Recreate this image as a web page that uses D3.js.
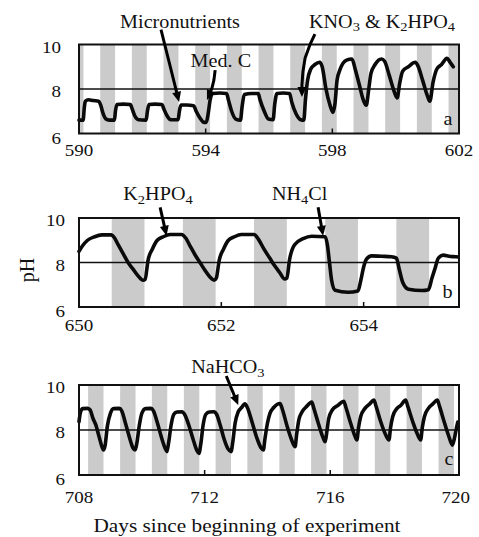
<!DOCTYPE html>
<html>
<head>
<meta charset="utf-8">
<script src="https://cdn.jsdelivr.net/npm/d3@7"></script>
<style>
  body { margin: 0; background: #fff; }
  text { font-family: "Liberation Serif", "Times New Roman", serif; fill: #111; }
</style>
</head>
<body>
<svg id="chart" width="479" height="537"></svg>
<script>
// ---- data: pH traces, [day, pH] ----
const traceA = [
  [590.00,6.60],[590.13,6.60],[590.17,7.20],[590.20,7.45],[590.30,7.52],[590.45,7.48],[590.62,7.45],
  [590.68,7.30],[590.76,6.90],[590.85,6.65],[590.95,6.60],[591.12,6.60],[591.15,7.00],[591.20,7.30],
  [591.40,7.32],[591.62,7.30],[591.68,7.10],[591.76,6.80],[591.88,6.62],[592.12,6.60],[592.16,7.00],
  [592.21,7.30],[592.40,7.32],[592.62,7.30],[592.68,7.10],[592.78,6.80],[592.90,6.62],[593.13,6.62],
  [593.17,7.00],[593.22,7.28],[593.40,7.28],[593.62,7.25],[593.70,7.00],[593.82,6.70],[593.95,6.50],
  [594.02,6.50],[594.08,6.90],[594.14,7.50],[594.22,7.80],[594.45,7.82],[594.66,7.80],[594.72,7.50],
  [594.82,7.00],[594.95,6.65],[595.10,6.60],[595.15,7.20],[595.22,7.75],[595.45,7.80],[595.66,7.80],
  [595.72,7.50],[595.85,7.00],[595.98,6.65],[596.13,6.62],[596.18,7.30],[596.25,7.80],[596.45,7.82],
  [596.65,7.80],[596.72,7.40],[596.85,6.90],[597.00,6.62],[597.10,6.60],[597.15,7.50],[597.22,8.40],
  [597.32,8.90],[597.45,9.10],[597.60,9.20],[597.68,9.00],[597.80,8.00],[597.92,7.30],[598.02,6.95],
  [598.08,7.30],[598.15,8.40],[598.25,8.90],[598.45,9.30],[598.62,9.35],[598.72,8.90],[598.85,8.20],
  [598.98,7.50],[599.07,7.27],[599.15,8.00],[599.22,8.70],[599.35,9.10],[599.55,9.35],[599.65,9.25],
  [599.80,8.60],[599.95,7.90],[600.05,7.60],[600.12,8.20],[600.22,8.80],[600.40,9.00],[600.62,9.20],
  [600.70,9.05],[600.85,8.40],[601.00,7.70],[601.08,7.45],[601.18,8.30],[601.30,8.90],[601.45,9.10],
  [601.62,9.38],[601.72,9.20],[601.82,9.00]
];
const traceB = [
  [650.00,8.50],[650.05,8.75],[650.12,9.00],[650.22,9.16],[650.32,9.24],[650.45,9.24],[650.50,9.10],
  [650.55,8.80],[650.62,8.40],[650.69,8.00],[650.76,7.70],[650.83,7.40],[650.90,7.20],[650.93,7.25],
  [650.97,8.10],[651.03,8.60],[651.10,9.00],[651.18,9.15],[651.28,9.26],[651.44,9.26],[651.50,9.10],
  [651.56,8.75],[651.63,8.35],[651.70,8.00],[651.77,7.65],[651.84,7.35],[651.90,7.20],[651.93,7.30],
  [651.97,8.10],[652.03,8.60],[652.10,9.00],[652.18,9.15],[652.28,9.26],[652.46,9.26],[652.52,9.05],
  [652.60,8.60],[652.68,8.20],[652.75,7.85],[652.82,7.55],[652.89,7.26],[652.92,7.30],[652.96,8.15],
  [653.03,8.80],[653.15,9.07],[653.27,9.18],[653.46,9.16],[653.49,8.80],[653.52,8.00],[653.55,7.20],
  [653.60,6.75],[653.78,6.66],[653.92,6.72],[653.96,7.20],[654.00,7.80],[654.04,8.15],[654.11,8.30],
  [654.25,8.28],[654.39,8.26],[654.46,8.20],[654.50,7.70],[654.55,7.10],[654.63,6.80],[654.82,6.74],
  [654.91,6.78],[654.96,7.30],[655.00,7.70],[655.05,8.20],[655.12,8.33],[655.20,8.28],[655.29,8.26],
  [655.33,8.25]
];
const traceC = [
  [708.00,8.37],[708.05,8.80],[708.12,8.95],[708.27,8.96],[708.35,8.90],[708.45,8.50],[708.53,8.25],
  [708.64,7.70],[708.72,7.30],[708.78,7.11],[708.83,7.30],[708.90,8.15],[709.00,8.74],[709.10,8.95],
  [709.28,8.96],[709.36,8.85],[709.48,8.30],[709.60,7.70],[709.72,7.20],[709.79,7.11],[709.84,7.40],
  [709.92,8.20],[710.00,8.74],[710.12,8.95],[710.29,8.96],[710.37,8.85],[710.50,8.30],[710.62,7.70],
  [710.74,7.20],[710.80,7.04],[710.85,7.40],[710.93,8.20],[711.02,8.70],[711.12,8.80],[711.28,8.81],
  [711.36,8.70],[711.50,8.20],[711.63,7.60],[711.75,7.10],[711.82,6.96],[711.88,7.40],[711.95,8.20],
  [712.04,8.70],[712.15,8.80],[712.30,8.81],[712.38,8.70],[712.50,8.20],[712.62,7.60],[712.75,7.15],
  [712.84,7.04],[712.90,7.50],[712.97,8.30],[713.07,8.81],[713.18,9.00],[713.28,9.16],[713.36,9.00],
  [713.50,8.40],[713.65,7.70],[713.80,7.20],[713.87,7.11],[713.92,7.60],[714.00,8.30],[714.08,8.74],
  [714.20,9.00],[714.40,9.18],[714.48,8.90],[714.62,8.20],[714.76,7.60],[714.88,7.26],[714.93,7.80],
  [715.00,8.45],[715.10,8.80],[715.25,9.05],[715.41,9.24],[715.48,8.95],[715.62,8.30],[715.76,7.70],
  [715.84,7.48],[715.89,7.90],[715.95,8.50],[716.07,8.90],[716.25,9.10],[716.43,9.28],[716.50,9.00],
  [716.65,8.30],[716.78,7.75],[716.85,7.56],[716.90,8.10],[716.97,8.60],[717.10,8.95],[717.25,9.15],
  [717.39,9.33],[717.46,9.05],[717.60,8.40],[717.76,7.80],[717.87,7.56],[717.92,8.10],[717.99,8.60],
  [718.12,8.95],[718.25,9.10],[718.40,9.33],[718.47,9.05],[718.62,8.40],[718.78,7.80],[718.88,7.56],
  [718.93,8.10],[719.00,8.60],[719.12,8.95],[719.26,9.15],[719.41,9.33],[719.48,9.05],[719.62,8.40],
  [719.78,7.70],[719.89,7.33],[719.95,7.60],[720.02,8.10],[720.06,8.35]
];

// dark periods (grey bands), [start, end] in days
const darkA = [[590,590.14],[590.67,591.14],[591.67,592.14],[592.67,593.14],[593.67,594.14],[594.67,595.14],
  [595.67,596.14],[596.67,597.14],[597.67,598.14],[598.67,599.14],[599.67,600.14],[600.67,601.14],[601.67,602]];
const darkB = [[650.46,650.92],[651.46,651.92],[652.46,652.92],[653.46,653.92],[654.46,654.92]];
const darkC = [[708.29,708.78],[709.31,709.80],[710.32,710.81],[711.34,711.83],[712.35,712.84],[713.36,713.85],
  [714.38,714.87],[715.39,715.88],[716.41,716.90],[717.42,717.91],[718.43,718.92],[719.45,719.94]];

const ticksA = [590, 594, 598, 602];
const ticksB = [650, 652, 654];
const ticksC = [708, 712, 716, 720];
const phTicks = [6, 8, 10];

// annotations: text position and arrow path (tail ... tip) in [day, pH]
const notesA = [
  {text: ["Micronutrients"], at: [593.19, 10.76], arrow: [[592.59, 10.67], [593.16, 7.42]]},
  {text: ["Med. C"], at: [594.48, 8.98],
   arrow: [[594.30, 8.85], [594.26, 8.40], [594.20, 8.05], [594.11, 7.73], [594.04, 7.51]]},
  {text: ["KNO", {sub: "3"}, " & K", {sub: "2"}, "HPO", {sub: "4"}], at: [599.57, 10.76],
   arrow: [[597.45, 10.47], [597.29, 9.98], [597.14, 9.39], [597.07, 8.76], [597.04, 8.18], [597.04, 7.64]]}
];
const notesB = [
  {text: ["K", {sub: "2"}, "HPO", {sub: "4"}], at: [651.11, 10.81], arrow: [[651.14, 10.48], [651.23, 9.2]]},
  {text: ["NH", {sub: "4"}, "Cl"], at: [653.1, 10.81], arrow: [[653.36, 10.48], [653.43, 9.2]]}
];
const notesC = [
  {text: ["NaHCO", {sub: "3"}], at: [712.74, 10.53], arrow: [[712.69, 10.4], [713.07, 9.11]]}
];

/***** setup *****/
const svg = d3.select("#chart");
const left = 79, right = 459;
const SX = 1.12;   // the figure's type is a bit wide

function addText(g, x, y, size, anchor, parts) {
    const t = g.append("text")
        .attr("transform", `translate(${x},${y}) scale(${SX},1)`)
        .attr("text-anchor", anchor)
        .style("font-size", size + "px");
    let low = false;
    parts.forEach(p => {
        if (typeof p === "string") {
            t.append("tspan").attr("dy", low ? -size * 0.2 : 0).text(p);
            low = false;
        } else {
            t.append("tspan").attr("dy", size * 0.2)
                .style("font-size", (size * 0.72) + "px").text(p.sub);
            low = true;
        }
    });
    return t;
}

// arrow: polyline shaft plus a filled head at the last point
function addArrow(g, pts) {
    const n = pts.length;
    const tip = pts[n - 1], prev = pts[n - 2];
    const dx = tip[0] - prev[0], dy = tip[1] - prev[1];
    const len = Math.hypot(dx, dy);
    const ux = dx / len, uy = dy / len;
    const headL = 10, headW = 4.5;
    const base = [tip[0] - ux * headL, tip[1] - uy * headL];
    const shaft = pts.slice(0, n - 1).concat([[tip[0] - ux * 6, tip[1] - uy * 6]]);

    g.append("polyline")
        .attr("class", "shaft")
        .attr("points", shaft.map(d => d.join(",")).join(" "))
        .attr("fill", "none")
        .attr("stroke", "#000")
        .attr("stroke-width", 3)
        .attr("stroke-linejoin", "round");

    g.append("polygon")
        .attr("points", [
            tip,
            [base[0] - uy * headW, base[1] + ux * headW],
            [base[0] + uy * headW, base[1] - ux * headW]
        ].map(d => d.join(",")).join(" "))
        .attr("fill", "#000");
}

const panels = [
    {key: "a", trace: traceA, dark: darkA, ticks: ticksA, notes: notesA, domain: [590, 602],
     top: 44.5, bottom: 133.5, tickY: 156, labelX: 61, letter: [601.65, 6.36]},
    {key: "b", trace: traceB, dark: darkB, ticks: ticksB, notes: notesB, domain: [650, 655.34],
     top: 218, bottom: 307, tickY: 331, labelX: 65, letter: [655.18, 6.4]},
    {key: "c", trace: traceC, dark: darkC, ticks: ticksC, notes: notesC, domain: [708, 720.1],
     top: 385, bottom: 475, tickY: 503, labelX: 65, letter: [719.78, 6.44]}
];

const arrowLayer = [];

panels.forEach(p => {
    const x = d3.scaleLinear().domain(p.domain).range([left, right]);
    const y = d3.scaleLinear().domain([6, 10]).range([p.bottom, p.top]);
    const g = svg.append("g").attr("class", "panel-" + p.key);

    // dark periods
    g.selectAll(".dark")
        .data(p.dark)
        .enter().append("rect")
        .attr("class", "dark")
        .attr("x", d => x(Math.max(d[0], p.domain[0])))
        .attr("width", d => x(Math.min(d[1], p.domain[1])) - x(Math.max(d[0], p.domain[0])))
        .attr("y", p.top)
        .attr("height", p.bottom - p.top)
        .attr("fill", "#cbcbcb");

    // reference line at pH 8
    g.append("line")
        .attr("x1", left).attr("x2", right)
        .attr("y1", y(8)).attr("y2", y(8))
        .attr("stroke", "#111").attr("stroke-width", 1.6);

    // pH trace
    g.append("path")
        .datum(p.trace)
        .attr("fill", "none")
        .attr("stroke", "#0a0a0a")
        .attr("stroke-width", 3.6)
        .attr("stroke-linejoin", "round")
        .attr("stroke-linecap", "round")
        .attr("d", d3.line().x(d => x(d[0])).y(d => y(d[1])).curve(d3.curveMonotoneX));

    // frame
    g.append("rect")
        .attr("x", left).attr("y", p.top)
        .attr("width", right - left).attr("height", p.bottom - p.top)
        .attr("fill", "none").attr("stroke", "#111").attr("stroke-width", 2);

    // inner tick marks
    g.selectAll(".tk")
        .data(p.ticks.filter(t => t > p.domain[0] && t < p.domain[1] - 0.2))
        .enter().append("line")
        .attr("x1", d => x(d)).attr("x2", d => x(d))
        .attr("y1", p.bottom).attr("y2", p.bottom - 5)
        .attr("stroke", "#111").attr("stroke-width", 1.5);

    // tick labels
    p.ticks.forEach(t => addText(g, x(t), p.tickY, 17, "middle", [String(t)]));
    phTicks.forEach(v => addText(g, p.labelX, y(v) + 8 + (v === 6 ? 2 : 0), 17, "end", [String(v)]));

    // panel letter
    addText(g, x(p.letter[0]), y(p.letter[1]), 18, "middle", [p.key]);

    // annotation labels; arrows are drawn last, on top of everything
    p.notes.forEach(n => {
        addText(g, x(n.at[0]), y(n.at[1]), 18, "middle", n.text);
        arrowLayer.push(n.arrow.map(d => [x(d[0]), y(d[1])]));
    });
});

/***** axis titles *****/
svg.append("text")
    .attr("transform", "translate(34,270) rotate(-90)")
    .attr("text-anchor", "middle")
    .style("font-size", "20px")
    .text("pH");

addText(svg, 247, 532, 19, "middle", ["Days since beginning of experiment"]);

/***** arrows *****/
const arrows = svg.append("g").attr("class", "arrows");
arrowLayer.forEach(pts => addArrow(arrows, pts));
</script>
</body>
</html>
